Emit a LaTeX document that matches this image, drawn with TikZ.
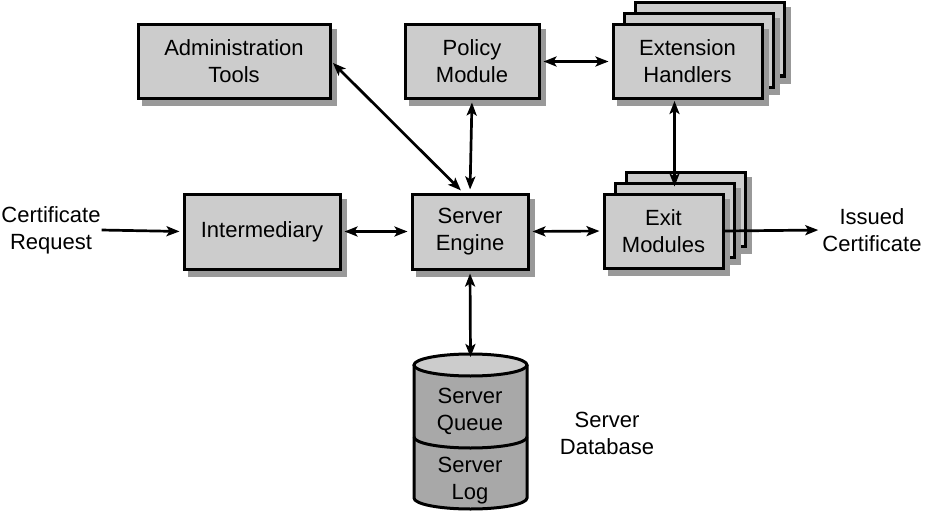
\documentclass[tikz,border=0pt]{standalone}
\usepackage{fontspec}
\setmainfont{Liberation Sans}
\usetikzlibrary{arrows.meta}
\definecolor{boxfill}{HTML}{CCCCCC}
\definecolor{shadecol}{HTML}{999999}
\definecolor{dbfill}{HTML}{A8A8A8}
\newcommand\shbox[6]{%
  \fill[shadecol] (#2+3.5,#3+4.5) rectangle (#4+6.5,#5+7.5);
  \node[box, minimum width=#4-#2, minimum height=#5-#3] (#1) at ({(#2+#4)/2},{(#3+#5)/2}) {#6};}
\begin{document}
\begin{tikzpicture}[x=1pt,y=-1pt,
  box/.style={draw=black, line width=3pt, fill=boxfill, align=center, inner sep=0pt,
    font=\fontsize{22}{27}\selectfont},
  lbl/.style={align=center, inner sep=0pt, font=\fontsize{22}{27}\selectfont},
  tip/.tip={Stealth[length=13pt,width=10pt,inset=3pt]},
  conn/.style={line width=2.7pt, tip-tip},
  arr/.style={line width=2.7pt, -tip},
  dbline/.style={draw=black, line width=3pt}]
\useasboundingbox (0,0) rectangle (926,519);

% top row
\shbox{admin}{138}{25}{330}{98}{Administration\\Tools}
\shbox{policy}{405}{25}{539}{98}{Policy\\Module}
\shbox{ext3}{635}{3}{784}{76}{}
\shbox{ext2}{624}{14}{773}{87}{}
\shbox{ext}{613}{25}{762}{98}{Extension\\Handlers}

% middle row
\shbox{inter}{184}{194}{340}{269}{Intermediary}
\shbox{engine}{412}{194}{528}{269}{Server\\Engine}
\shbox{exit3}{626}{172}{745}{246}{}
\shbox{exit2}{615}{183}{734}{257}{}
\shbox{exit}{604}{194}{723}{268}{Exit\\Modules}

% outside labels
\node[lbl] (req) at (51,230) {Certificate\\Request};
\node[lbl] (iss) at (872,230) {Issued\\Certificate};
\node[lbl] (dblabel) at (607,433) {Server\\Database};

% database cylinder
\coordinate (dbtop) at (470.5,357);
\path[fill=dbfill, dbline] (414,365) -- (414,498)
  arc[start angle=180, end angle=360, x radius=56.5pt, y radius=11pt] -- (527,365);
\filldraw[fill=boxfill, dbline] (470.5,365) ellipse [x radius=56.5pt, y radius=11pt];
\draw[dbline] (414,437) arc[start angle=180, end angle=360, x radius=56.5pt, y radius=11pt];
\node[lbl] (queue) at (470,411) {Server\\Queue};
\node[lbl] (log) at (470,481) {Server\\Log};

% connectors
\draw[conn, shorten <=2pt, shorten >=3pt] (admin.east) -- ([xshift=-7pt]engine.north);
\draw[conn, shorten <=3pt, shorten >=3pt] (policy.south) -- (engine.north);
\draw[conn, shorten <=3pt, shorten >=3pt] (policy.east) -- (ext.west);
\draw[conn, shorten <=1.5pt] (ext.south -| exit2.north) -- ([yshift=-5pt]exit2.north);
\draw[conn, shorten <=3pt, shorten >=3pt] (inter.east) -- (engine.west);
\draw[conn, shorten <=3pt, shorten >=3pt] (engine.east) -- (exit.west);
\draw[arr, shorten <=1pt, shorten >=3pt] (req.east) -- (inter.west);
\draw[arr, shorten <=0pt, shorten >=4pt] (exit.east) -- (iss.west);
\draw[conn, shorten <=3pt] (engine.south) -- (dbtop);
\end{tikzpicture}
\end{document}
